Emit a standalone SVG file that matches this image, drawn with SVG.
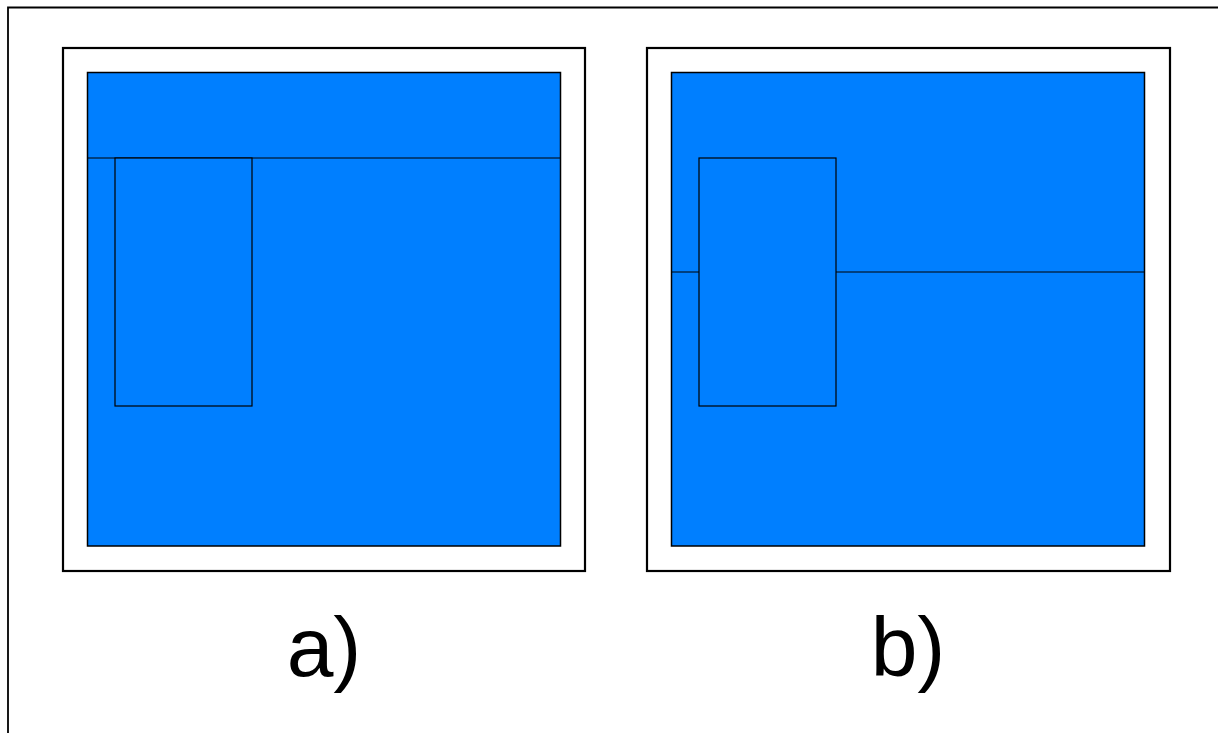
<svg xmlns="http://www.w3.org/2000/svg" width="1218" height="733" viewBox="0 0 1218 733">
<style>
.frame{fill:#fff;stroke:#000;stroke-width:2.2}
.area{fill:#007fff;stroke:#000;stroke-width:1.5}
.part{fill:none;stroke:#000;stroke-width:1.2}
.block{fill:#007fff;stroke:#000;stroke-width:1.2}
.lbl{font-family:"Liberation Sans",Arial,sans-serif;font-size:84px;fill:#000;text-anchor:middle}
</style>
<rect width="1218" height="733" fill="#fff"/>
<path d="M8,733 V7.5 H1218" fill="none" stroke="#000" stroke-width="1.8"/>
<g id="panel-a">
<rect class="frame" x="63" y="48" width="522" height="523"/>
<rect class="area" x="87.5" y="72.5" width="473" height="473.5"/>
<line class="part" x1="87.5" y1="158" x2="560.5" y2="158"/>
<rect class="block" x="115" y="158" width="137" height="248"/>
<text class="lbl" x="324" y="676">a)</text>
</g>
<g id="panel-b">
<rect class="frame" x="647" y="48" width="523" height="523"/>
<rect class="area" x="671.5" y="72.5" width="473" height="473.5"/>
<line class="part" x1="671.5" y1="272" x2="1144.5" y2="272"/>
<rect class="block" x="699" y="158" width="137" height="248"/>
<text class="lbl" x="908" y="676">b)</text>
</g>
</svg>
